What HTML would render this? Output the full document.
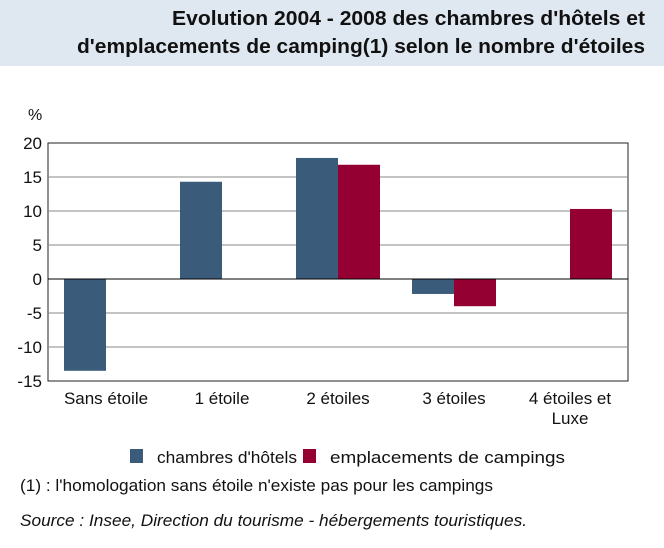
<!DOCTYPE html>
<html><head><meta charset="utf-8"><style>
body{margin:0;width:664px;height:548px;background:#fff;font-family:"Liberation Sans",sans-serif;overflow:hidden}
#hdr{position:absolute;left:0;top:0;width:664px;height:66px;background:#dfe7f1}
</style></head><body>
<div id="hdr"></div>
<svg id="c" width="664" height="548" style="position:absolute;left:0;top:0;font-family:'Liberation Sans',sans-serif">
<text x="645" y="25" text-anchor="end" font-size="20" font-weight="bold" fill="#111" textLength="473" lengthAdjust="spacingAndGlyphs">Evolution 2004 - 2008 des chambres d'hôtels et</text>
<text x="645" y="53" text-anchor="end" font-size="20" font-weight="bold" fill="#111" textLength="568" lengthAdjust="spacingAndGlyphs">d'emplacements de camping(1) selon le nombre d'étoiles</text>
<text x="20" y="491" font-size="17" fill="#111" textLength="473" lengthAdjust="spacingAndGlyphs">(1) : l'homologation sans étoile n'existe pas pour les campings</text>
<text x="20" y="526" font-size="17" font-style="italic" fill="#111" textLength="507" lengthAdjust="spacingAndGlyphs">Source : Insee, Direction du tourisme - hébergements touristiques.</text>
</svg>
<script>
const categories=["Sans étoile","1 étoile","2 étoiles","3 étoiles","4 étoiles et|Luxe"];
const hotels=[-13.5,14.3,17.8,-2.2,null];
const campings=[null,null,16.8,-4.0,10.3];
const yTicks=[20,15,10,5,0,-5,-10,-15];
const seriesNames=["chambres d'hôtels","emplacements de campings"];
const NS="http://www.w3.org/2000/svg",svg=document.getElementById('c');
const L=48,R=628,T=143,B=381,yMin=-15,yMax=20;
const y=v=>T+(yMax-v)/(yMax-yMin)*(B-T);
const bw=(R-L)/categories.length;
const xc=i=>L+bw*(i+0.5);
function mk(t,a){const e=document.createElementNS(NS,t);for(const k in a)e.setAttribute(k,a[k]);svg.appendChild(e);return e;}
let e=mk('rect',{x:L,y:T,width:R-L,height:B-T,fill:'#fff',stroke:'#222','stroke-width':1});


yTicks.forEach(v=>{
 if(v!==yMax&&v!==yMin){const g=mk('line',{x1:L,x2:R,y1:y(v),y2:y(v),stroke:v===0?'#000':'#888','stroke-width':1});
 
 }
 const t=mk('text',{x:L-6,y:y(v)+6,'text-anchor':'end','font-size':17,fill:'#111'});t.textContent=v;
 
 
});
let u=mk('text',{x:28,y:120,'font-size':16,fill:'#111'});u.textContent='%';


const w=42;
function bars(arr,off,col,nm){arr.forEach((v,i)=>{if(v==null)return;
 const r=mk('rect',{x:xc(i)+off,y:Math.min(y(v),y(0)),width:w,height:Math.abs(y(v)-y(0)),fill:col});
 
 });}
bars(hotels,-w,'#3b5b7b','hotels');
bars(campings,0,'#930031','campings');
mk('line',{x1:L,x2:R,y1:y(0),y2:y(0),stroke:'#000','stroke-width':1});
categories.forEach((c,i)=>{c.split('|').forEach((s,j)=>{
 const t=mk('text',{x:xc(i),y:404+j*20,'text-anchor':'middle','font-size':17,fill:'#111'});t.textContent=s;
 
 });});
[[130,'#3b5b7b',140],[303,'#930031',235]].forEach(([x,col,tl],k)=>{
 const r=mk('rect',{x:x,y:449,width:13,height:14,fill:col});
 
 
 const t=mk('text',{x:x+27,y:463,'font-size':17,fill:'#111',textLength:tl,lengthAdjust:'spacingAndGlyphs'});t.textContent=seriesNames[k];
 
 });
</script>
</body></html>
